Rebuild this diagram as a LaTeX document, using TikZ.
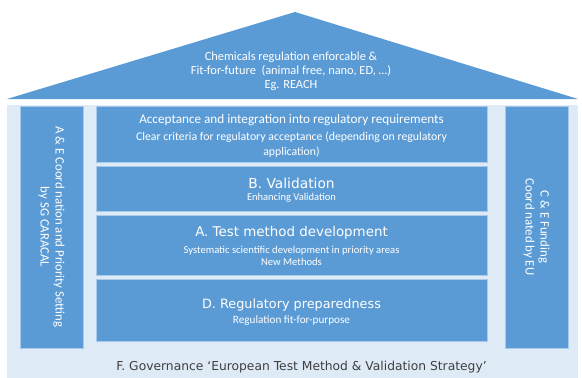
\documentclass[tikz,border=0pt]{standalone}
\usepackage{fontspec}
\setmainfont{Carlito}
\newfontfamily\headfont{DejaVu Sans}
\definecolor{blu}{HTML}{5B9BD5}
\definecolor{pale}{HTML}{DEEBF7}
\definecolor{edgec}{HTML}{A9CBEB}
\definecolor{govc}{HTML}{3F3F3F}
\tikzset{
  boxstyle/.style={rectangle, fill=blu, draw=edgec, line width=0.9pt, inner sep=0pt, minimum width=391pt},
  pillarstyle/.style={rectangle, fill=blu, draw=edgec, line width=0.9pt, inner sep=0pt, minimum width=63pt, minimum height=242pt},
  txt/.style={text=white, align=center, inner sep=0pt},
  headtxt/.style={text=white, align=center, inner sep=0pt},
  subtxt/.style={text=white, align=center, inner sep=0pt, font=\fontsize{10.5}{12}\selectfont},
}
\begin{document}
\begin{tikzpicture}[x=1pt,y=-1pt]
\useasboundingbox (0,0) rectangle (582,378);
\fill[white] (0,0) rectangle (582,378);
% roof
\fill[blu] (7,99) -- (295,12) -- (578,99) -- cycle;
\node[txt, font=\fontsize{12.4}{13.8}\selectfont] (rooftxt) at (291,71)
  {Chemicals regulation enforcable \&\\Fit-for-future\ \ (animal free, nano, ED, \dots)\\Eg. REACH};
% base
\fill[pale] (7,105) rectangle (578,378);
% pillars
\node[pillarstyle] (lp) at (51.5,227) {};
\node[pillarstyle] (rp) at (536.5,227) {};
\node[txt, rotate=-90, font=\fontsize{12.8}{15}\selectfont] (lptxt) at (lp.center)
  {A \& E Coord nation and Priority Setting\\by SG CARACAL};
\node[txt, rotate=-90, font=\fontsize{12.8}{15}\selectfont] (rptxt) at (rp.center)
  {C \& E Funding\\Coord nated by EU};
% central boxes
\node[boxstyle, minimum height=56pt] (acc) at (291.5,134) {};
\node[boxstyle, minimum height=45pt] (val) at (291.5,188.5) {};
\node[boxstyle, minimum height=60pt] (tmd) at (291.5,245) {};
\node[boxstyle, minimum height=62pt] (reg) at (291.5,310) {};
% texts
\node[txt, font=\fontsize{13.2}{15}\selectfont] (acch) at (291.5,120) {Acceptance and integration into regulatory requirements};
\node[txt, font=\fontsize{11.8}{14.5}\selectfont] (accs) at (291.5,144.5) {Clear criteria for regulatory acceptance (depending on regulatory\\application)};
\node[headtxt, font=\headfont\fontsize{13.8}{15}\selectfont] (valh) at (291.5,183) {B. Validation};
\node[subtxt] (vals) at (291.5,197.5) {Enhancing Validation};
\node[headtxt, font=\headfont\fontsize{13.4}{15}\selectfont] (tmdh) at (291.5,233) {A. Test method development};
\node[subtxt, font=\fontsize{10.6}{12.5}\selectfont] (tmds) at (291.5,256) {Systematic scientific development in priority areas\\New Methods};
\node[headtxt, font=\headfont\fontsize{12.8}{15}\selectfont] (regh) at (291.5,305) {D. Regulatory preparedness};
\node[subtxt, font=\fontsize{11.2}{12}\selectfont] (regs) at (291.5,321) {Regulation fit-for-purpose};
\node[text=govc, inner sep=0pt, font=\headfont\fontsize{12.3}{14}\selectfont] (gov) at (301.5,367)
  {F. Governance ‘European Test Method \& Validation Strategy’};
\end{tikzpicture}
\end{document}
